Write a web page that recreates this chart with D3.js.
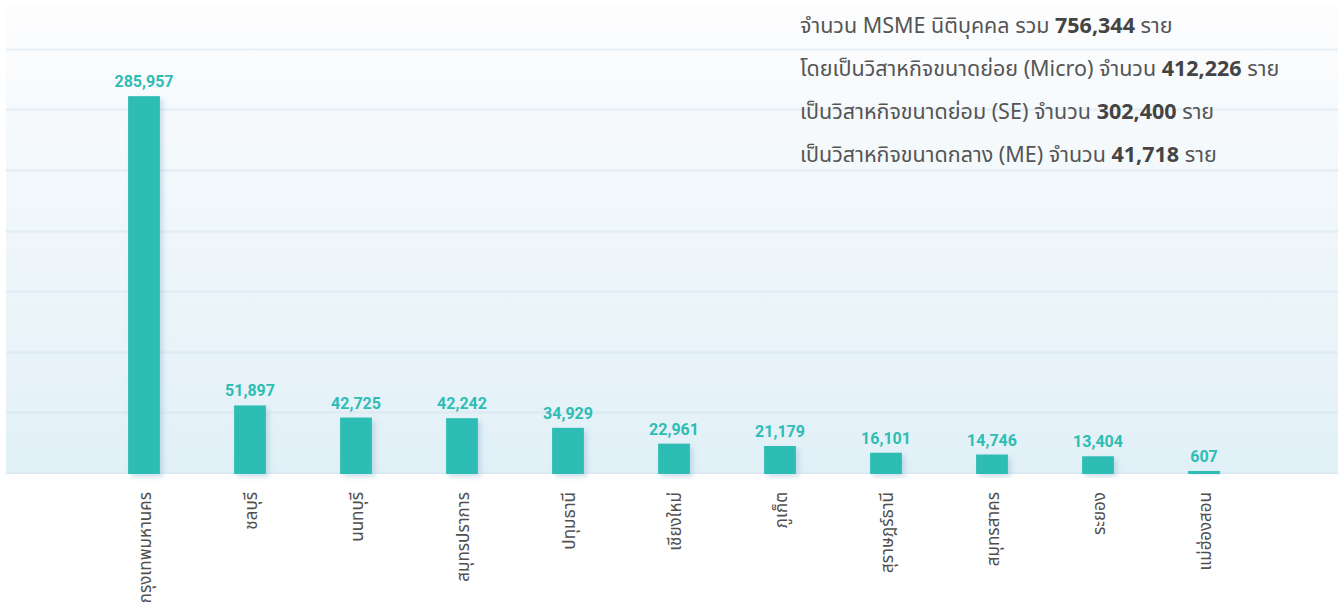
<!DOCTYPE html>
<html>
<head>
<meta charset="utf-8">
<script src="https://cdn.jsdelivr.net/npm/d3@7"></script>
<style>
  html, body { margin: 0; padding: 0; background: #ffffff; }
  svg { display: block; }
</style>
</head>
<body>
<svg id="chart" width="1338" height="606"></svg>
<script>
const categories = ["กรุงเทพมหานคร", "ชลบุรี", "นนทบุรี", "สมุทรปราการ", "ปทุมธานี", "เชียงใหม่", "ภูเก็ต", "สุราษฎร์ธานี", "สมุทรสาคร", "ระยอง", "แม่ฮ่องสอน"];
const values = [285957, 51897, 42725, 42242, 34929, 22961, 21179, 16101, 14746, 13404, 607];
const summaryLines = [
  ["จำนวน MSME นิติบุคคล รวม ", "756,344", " ราย"],
  ["โดยเป็นวิสาหกิจขนาดย่อย (Micro) จำนวน ", "412,226", " ราย"],
  ["เป็นวิสาหกิจขนาดย่อม (SE) จำนวน ", "302,400", " ราย"],
  ["เป็นวิสาหกิจขนาดกลาง (ME) จำนวน ", "41,718", " ราย"]
];
const yMax = 366900;
const gridCount = 8;

const svg = d3.select("#chart");
const plot = { left: 6, right: 1338, top: 5, bottom: 474 };

const defs = svg.append("defs");
const grad = defs.append("linearGradient").attr("id", "bg").attr("x1", 0).attr("y1", 0).attr("x2", 0).attr("y2", 1);
grad.append("stop").attr("offset", "0%").attr("stop-color", "#fdfdfe");
grad.append("stop").attr("offset", "100%").attr("stop-color", "#e1f0f7");
const clip = defs.append("clipPath").attr("id", "plotclip");
clip.append("rect").attr("x", plot.left).attr("y", plot.top).attr("width", plot.right - plot.left).attr("height", plot.bottom - plot.top);
const shadow = defs.append("filter").attr("id", "shadow").attr("x", "-30%").attr("y", "-10%").attr("width", "170%").attr("height", "130%");
shadow.append("feDropShadow").attr("dx", 3).attr("dy", 3).attr("stdDeviation", 2.5).attr("flood-color", "#7aa9c9").attr("flood-opacity", 0.35);

svg.append("rect").attr("x", plot.left).attr("y", plot.top)
  .attr("width", plot.right - plot.left).attr("height", plot.bottom - plot.top)
  .attr("fill", "url(#bg)");

const y = d3.scaleLinear().domain([0, yMax]).range([plot.bottom, plot.bottom - (gridCount * 60.6)]);
const x = d3.scaleBand().domain(categories).range([91, 1257]).paddingInner(0.7).paddingOuter(0.35);

// gridlines
const gridVals = d3.range(0, gridCount).map(i => yMax * i / gridCount);
svg.append("g").attr("clip-path", "url(#plotclip)")
  .selectAll("line").data(gridVals).join("line")
  .attr("x1", plot.left).attr("x2", plot.right)
  .attr("y1", d => Math.round(y(d)) - 0.5).attr("y2", d => Math.round(y(d)) - 0.5)
  .attr("stroke", "#d6e4ec").attr("stroke-opacity", 0.55).attr("stroke-width", 2);

// summary text
const txt = svg.append("g");
summaryLines.forEach((parts, i) => {
  const t = txt.append("text")
    .attr("x", 800).attr("y", 33 + i * 43)
    .attr("font-family", "'Noto Sans Thai', 'Noto Sans', sans-serif")
    .attr("font-size", 21.5).attr("fill", "#555");
  t.append("tspan").text(parts[0]);
  t.append("tspan").attr("font-weight", "bold").attr("fill", "#444").text(parts[1]);
  t.append("tspan").text(parts[2]);
});

// bars
const minBar = 3;
svg.append("g").selectAll("rect").data(values).join("rect")
  .attr("x", (d, i) => x(categories[i]))
  .attr("width", x.bandwidth())
  .attr("y", d => Math.min(y(d), y(0) - minBar))
  .attr("height", d => Math.max(y(0) - y(d), minBar))
  .attr("fill", "#2ebdb4")
  .attr("filter", "url(#shadow)");

// value labels
svg.append("g").selectAll("text").data(values).join("text")
  .attr("x", (d, i) => x(categories[i]) + x.bandwidth() / 2)
  .attr("y", d => Math.min(y(d), y(0) - minBar) - 9)
  .attr("text-anchor", "middle")
  .attr("font-family", "Roboto, sans-serif")
  .attr("font-weight", "bold")
  .attr("font-size", 16)
  .attr("fill", "#2ebdb4")
  .text(d => d3.format(",")(d));

// category labels
svg.append("g").selectAll("text").data(categories).join("text")
  .attr("transform", d => `translate(${x(d) + x.bandwidth() / 2 + 7},492) rotate(-90)`)
  .attr("text-anchor", "end")
  .attr("font-family", "'Noto Sans Thai', 'Noto Sans', sans-serif")
  .attr("font-size", 17)
  .attr("fill", "#505050")
  .text(d => d);
</script>
</body>
</html>
